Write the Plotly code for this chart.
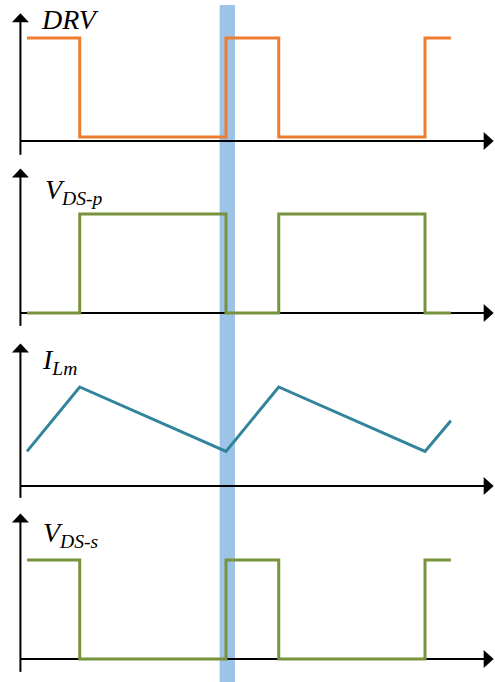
import plotly.graph_objects as go

# Switching instants over two periods (arbitrary time units, period = 10)
t_edges = [0, 2.65, 10, 12.65, 20, 21.3]

# Waveform levels at each instant (normalised amplitude)
drv_level = [1, 0, 1, 0, 1, 1]
vdsp_level = [0, 1, 0, 1, 0, 0]
ilm_level = [0.35, 1.0, 0.35, 1.0, 0.35, 0.66]
vdss_level = [1, 0, 1, 0, 1, 1]

labels = ["DRV", "V<sub>DS-p</sub>", "I<sub>Lm</sub>", "V<sub>DS-s</sub>"]

# Highlighted interval (turn-on transition)
band_t = [9.68, 10.45]

W, H = 495, 682
PX_PER_T = 19.9          # horizontal pixels per time unit
T0_PX = 27               # pixel column of t = 0
x_range = [-T0_PX / PX_PER_T, (W - T0_PX) / PX_PER_T]

# Per-panel vertical placement: pixel row of level 0, pixel row of level 1,
# axis line level, lower end of the vertical axis, arrow tip level
panels = [
    dict(p0=137, p1=38, axis=-0.04, vbot=-0.18, vtip=1.25),
    dict(p0=313, p1=214, axis=0.0, vbot=-0.13, vtip=1.46),
    dict(p0=486, p1=387, axis=0.0, vbot=-0.12, vtip=1.44),
    dict(p0=659, p1=560, axis=0.0, vbot=-0.13, vtip=1.47),
]
label_pos = [(39, 20), (43, 192), (40, 361), (41, 534)]

ORANGE = "#ED7D31"
GREEN = "#77933C"
TEAL = "#31849B"
BAND = "#9DC3E6"
SERIF = "Liberation Serif, Times New Roman, serif"

series = [
    (drv_level, ORANGE, "hv"),
    (vdsp_level, GREEN, "hv"),
    (ilm_level, TEAL, "linear"),
    (vdss_level, GREEN, "hv"),
]

axis_x0 = -0.33           # vertical axis position
axis_x_end = 23.0         # horizontal axis end (arrowhead base)
axis_x_tip = 23.45

fig = go.Figure()
shapes = []
annotations = []

for i, (pan, (lvl, col, shape)) in enumerate(zip(panels, series)):
    yref = "y" if i == 0 else f"y{i + 1}"
    span = pan["p0"] - pan["p1"]
    # axes (black lines)
    fig.add_trace(go.Scatter(
        x=[axis_x0, axis_x_end], y=[pan["axis"], pan["axis"]],
        mode="lines", line=dict(color="black", width=2),
        yaxis=yref, hoverinfo="skip"))
    fig.add_trace(go.Scatter(
        x=[axis_x0, axis_x0], y=[pan["vbot"], pan["vtip"] - 8 / span],
        mode="lines", line=dict(color="black", width=2),
        yaxis=yref, hoverinfo="skip"))
    # waveform
    fig.add_trace(go.Scatter(
        x=t_edges, y=lvl, mode="lines",
        line=dict(color=col, width=3, shape=shape),
        yaxis=yref))
    # arrowheads
    shapes.append(dict(
        type="path", xref="x", yref=yref,
        xsizemode="pixel", ysizemode="pixel",
        xanchor=axis_x0, yanchor=pan["vtip"],
        path="M -8.5,-9 L 8.5,-9 L 0,0 Z",
        fillcolor="black", line=dict(width=0), layer="above"))
    shapes.append(dict(
        type="path", xref="x", yref=yref,
        xsizemode="pixel", ysizemode="pixel",
        xanchor=axis_x_tip, yanchor=pan["axis"],
        path="M -10,9 L -10,-9 L 0,0 Z",
        fillcolor="black", line=dict(width=0), layer="above"))
    lx, ly = label_pos[i]
    annotations.append(dict(
        text=labels[i], xref="paper", yref="paper",
        x=lx / W, y=1 - ly / H, xanchor="left", yanchor="middle",
        showarrow=False,
        font=dict(family=SERIF, size=28, color="black", style="italic")))

shapes.append(dict(
    type="rect", xref="x", yref="paper",
    x0=band_t[0], x1=band_t[1], y0=0, y1=1 - 5 / H,
    fillcolor=BAND, line=dict(width=0), layer="below"))

layout = dict(
    width=W, height=H, autosize=False,
    margin=dict(l=0, r=0, t=0, b=0, pad=0),
    paper_bgcolor="white", plot_bgcolor="white",
    showlegend=False,
    xaxis=dict(range=x_range, visible=False, domain=[0, 1]),
    shapes=shapes, annotations=annotations,
)
for i, pan in enumerate(panels):
    span = pan["p0"] - pan["p1"]
    rng = [(pan["p0"] - H) / span, pan["p0"] / span]
    key = "yaxis" if i == 0 else f"yaxis{i + 1}"
    ax = dict(range=rng, visible=False, domain=[0, 1], anchor="x",
              fixedrange=True)
    if i > 0:
        ax["overlaying"] = "y"
    layout[key] = ax

fig.update_layout(**layout)
fig.write_html("out.html")
